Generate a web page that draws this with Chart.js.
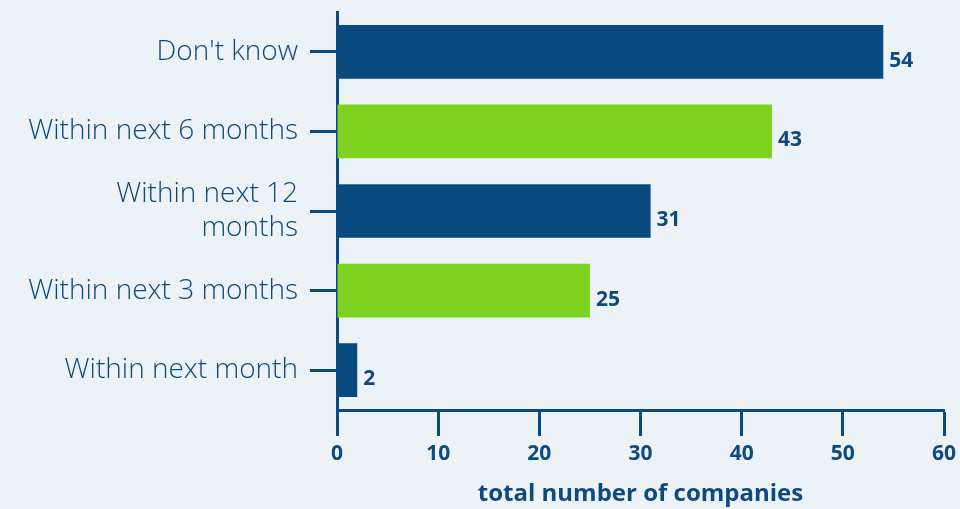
<!DOCTYPE html>
<html><head><meta charset="utf-8">
<script src="https://cdn.jsdelivr.net/npm/chart.js@4"></script>
<style>html,body{margin:0;padding:0;background:#edf2f7;}#wrap{width:960px;height:509px;}</style>
</head><body><div id="wrap"><canvas id="c"></canvas></div>
<script>
const categories = ["Don't know", "Within next 6 months", ["Within next 12", "months"], "Within next 3 months", "Within next month"];
const values = [54, 43, 31, 25, 2];
const barColors = ["#0b4a7e", "#7ed321", "#0b4a7e", "#7ed321", "#0b4a7e"];
const xTicks = [0, 10, 20, 30, 40, 50, 60];
const axisTitle = "total number of companies";

const ink = "#0d4a80";
const valueLabels = {
  id: 'valueLabels',
  afterDatasetsDraw(chart) {
    const ctx = chart.ctx;
    const meta = chart.getDatasetMeta(0);
    ctx.save();
    ctx.fillStyle = ink;
    ctx.font = "bold 21px 'Open Sans'";
    ctx.textAlign = "left";
    ctx.textBaseline = "middle";
    meta.data.forEach((bar, i) => {
      ctx.fillText(String(values[i]), bar.x + 6, bar.y + 9);
    });
    ctx.restore();
  }
};

new Chart(document.getElementById('c'), {
  type: 'bar',
  data: { labels: categories, datasets: [{ data: values, backgroundColor: barColors, barPercentage: 0.675, categoryPercentage: 1 }] },
  options: {
    indexAxis: 'y',
    responsive: true, maintainAspectRatio: false, animation: false,
    layout: { padding: { top: 12, right: 16, left: 0, bottom: 0 } },
    plugins: { legend: { display: false }, tooltip: { enabled: false } },
    scales: {
      x: {
        min: 0, max: 60,
        afterBuildTicks(s) { s.ticks = xTicks.map(v => ({ value: v })); },
        afterFit(s) { s.height = 99; s.paddingLeft = 0; s.paddingRight = 0; },
        border: { display: true, color: ink, width: 3 },
        grid: { drawOnChartArea: false, drawTicks: true, tickLength: 26, tickWidth: 3, tickColor: ink },
        ticks: { color: ink, font: { family: 'Open Sans', size: 21, weight: 'bold' }, padding: 5 },
        title: { display: true, text: axisTitle, color: ink, font: { family: 'Open Sans', size: 24, weight: 'bold' }, padding: { top: 2, bottom: 0 } }
      },
      y: {
        afterFit(s) { s.width = 337; s.paddingTop = 0; s.paddingBottom = 0; },
        border: { display: true, color: ink, width: 3 },
        grid: { offset: false, drawOnChartArea: false, drawTicks: true, tickLength: 27, tickWidth: 3, tickColor: ink },
        ticks: { color: ink, font: { family: 'Open Sans', size: 28, weight: 300 }, padding: 12, lineHeight: 1.46 }
      }
    }
  },
  plugins: [valueLabels]
});
</script></body></html>
